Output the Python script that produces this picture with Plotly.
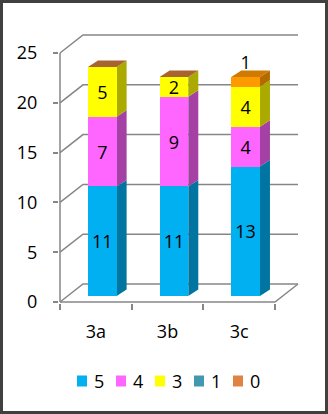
import plotly.graph_objects as go

# ---------------- data ----------------
categories = ["3a", "3b", "3c"]
series_names = ["5", "4", "3", "1", "0"]
values_5 = [11, 11, 13]
values_4 = [7, 9, 4]
values_3 = [5, 2, 4]
values_1 = [0, 0, 0]
values_0 = [0, 0, 1]
y_ticks = [0, 5, 10, 15, 20, 25]

series_values = [values_5, values_4, values_3, values_1, values_0]

# ---------------- style ----------------
front_colors = ["#00B0F0", "#FF66FF", "#FFFF00", "#4198AF", "#FF9900"]
side_colors = ["#0075A2", "#A540A5", "#AAAA00", "#2A6474", "#B36B00"]
legend_colors = ["#00B0F0", "#FF66FF", "#FFFF00", "#4198AF", "#DF8244"]
top_color_filled = "#CF7A00"
top_color_empty = "#A8632F"
grid_color = "#868686"
FONT = "Open Sans"
FS = 18

W, H = 328, 414
M_L, M_R, M_T, M_B = 59, 29, 30, 111
PX_PER_X = 71.67
PX_PER_Y = 9.96
plot_w = W - M_L - M_R
plot_h = H - M_T - M_B
x_min = -0.5 - 1 / PX_PER_X
x_max = x_min + plot_w / PX_PER_X
y_min = -0.1
y_max = y_min + plot_h / PX_PER_Y

DEPTH_X, DEPTH_Y = 23 / PX_PER_X, 18 / PX_PER_Y      # back wall offset
BAR_DX, BAR_DY = 0.09, 0.6                             # bar plane offset
BAR_W = 0.40
SIDE_DX, SIDE_DY = 10 / PX_PER_X, 6.5 / PX_PER_Y       # bar depth

n = len(categories)
xs_cat = list(range(n))

fig = go.Figure()

# ---------------- walls / gridlines (main axes) ----------------
gx, gy = [], []
for v in y_ticks:
    gx += [-0.5, -0.5 + DEPTH_X, n - 0.5 + DEPTH_X, None]
    gy += [v, v + DEPTH_Y, v + DEPTH_Y, None]
# floor front edge and right edge
gx += [-0.5, n - 0.5, n - 0.5 + DEPTH_X, None]
gy += [0, 0, DEPTH_Y, None]
# left axis line
gx += [-0.5, -0.5, None]
gy += [0, y_ticks[-1], None]
fig.add_trace(go.Scatter(x=gx, y=gy, mode="lines",
                         line=dict(color=grid_color, width=1.5),
                         hoverinfo="skip", showlegend=False,
                         xaxis="x", yaxis="y"))

# ---------------- side & top faces (x2/y2) ----------------
cum = [0] * n
for s, vals in enumerate(series_values):
    px, py = [], []
    for i in range(n):
        b = cum[i]
        t = b + vals[i]
        if vals[i] > 0:
            xr = i + BAR_W / 2
            px += [xr, xr + SIDE_DX, xr + SIDE_DX, xr, xr, None]
            py += [b, b + SIDE_DY, t + SIDE_DY, t, b, None]
        cum[i] = t
    if px:
        fig.add_trace(go.Scatter(x=px, y=py, mode="lines", fill="toself",
                                 fillcolor=side_colors[s],
                                 line=dict(width=0, color=side_colors[s]),
                                 hoverinfo="skip", showlegend=False,
                                 xaxis="x2", yaxis="y2"))

for i in range(n):
    T = cum[i]
    xl, xr = i - BAR_W / 2, i + BAR_W / 2
    col = top_color_filled if values_0[i] > 0 else top_color_empty
    fig.add_trace(go.Scatter(
        x=[xl, xl + SIDE_DX, xr + SIDE_DX, xr, xl],
        y=[T, T + SIDE_DY, T + SIDE_DY, T, T],
        mode="lines", fill="toself", fillcolor=col,
        line=dict(width=0, color=col),
        hoverinfo="skip", showlegend=False, xaxis="x2", yaxis="y2"))

# ---------------- front faces (x3/y3) ----------------
for s, (name, vals) in enumerate(zip(series_names, series_values)):
    fig.add_trace(go.Bar(
        x=xs_cat, y=vals, name=name, width=BAR_W,
        marker=dict(color=front_colors[s], line=dict(width=0)),
        text=[str(v) if v else "" for v in vals],
        textposition="outside" if s == len(series_values) - 1 else "inside",
        insidetextanchor="middle", textangle=0, constraintext="none",
        textfont=dict(family=FONT, size=FS, color="black"),
        cliponaxis=False, showlegend=False,
        xaxis="x3", yaxis="y3"))

# ---------------- axes ----------------
shift_x = [x_min - BAR_DX, x_max - BAR_DX]
shift_y = [y_min - BAR_DY, y_max - BAR_DY]

fig.update_layout(
    width=W, height=H,
    margin=dict(l=M_L, r=M_R, t=M_T, b=M_B, pad=0),
    paper_bgcolor="white", plot_bgcolor="rgba(0,0,0,0)",
    barmode="stack",
    showlegend=False,
    font=dict(family=FONT, size=FS, color="black"),
    xaxis=dict(range=[x_min, x_max], tickmode="array", tickvals=xs_cat,
               ticktext=categories, ticks="outside", ticklen=6,
               tickcolor="rgba(0,0,0,0)", showgrid=False, zeroline=False,
               showline=False, ticklabelstandoff=6,
               tickfont=dict(family=FONT, size=FS, color="black"),
               minor=dict(tickmode="array",
                          tickvals=[i - 0.5 for i in range(n + 1)],
                          ticks="outside", ticklen=6, tickwidth=1.5,
                          tickcolor=grid_color, showgrid=False)),
    yaxis=dict(range=[y_min, y_max], tickmode="array", tickvals=y_ticks,
               ticks="outside", ticklen=5, tickwidth=1.5, tickcolor=grid_color,
               showgrid=False, zeroline=False, showline=False,
               ticklabelstandoff=12,
               tickfont=dict(family=FONT, size=FS, color="black")),
    xaxis2=dict(range=shift_x, overlaying="x", anchor="y2", visible=False),
    yaxis2=dict(range=shift_y, overlaying="y", anchor="x2", visible=False),
    xaxis3=dict(range=shift_x, overlaying="x", anchor="y3", visible=False),
    yaxis3=dict(range=shift_y, overlaying="y", anchor="x3", visible=False),
)

# ---------------- manual legend & frame ----------------
def pxx(px):
    return (px - M_L) / plot_w


def pxy(py):
    return (H - M_B - py) / plot_h


LEG_X0, LEG_PITCH, LEG_Y = 77, 39, 381
shapes = []
annotations = []
for k, name in enumerate(series_names):
    x0 = LEG_X0 + k * LEG_PITCH
    shapes.append(dict(type="rect", xref="paper", yref="paper",
                       x0=pxx(x0), x1=pxx(x0 + 10),
                       y0=pxy(LEG_Y + 5.5), y1=pxy(LEG_Y - 5.5),
                       fillcolor=legend_colors[k], line=dict(width=0)))
    annotations.append(dict(text=name, xref="paper", yref="paper",
                            x=pxx(x0 + 15), y=pxy(LEG_Y),
                            xanchor="left", yanchor="middle", showarrow=False,
                            font=dict(family=FONT, size=FS, color="black")))

shapes.append(dict(type="rect", xref="paper", yref="paper",
                   x0=pxx(1.5), x1=pxx(W - 1.5), y0=pxy(H - 1.5), y1=pxy(1.5),
                   line=dict(color="#404040", width=3), fillcolor="rgba(0,0,0,0)"))
fig.update_layout(shapes=shapes, annotations=annotations)

fig.write_html("out.html")
